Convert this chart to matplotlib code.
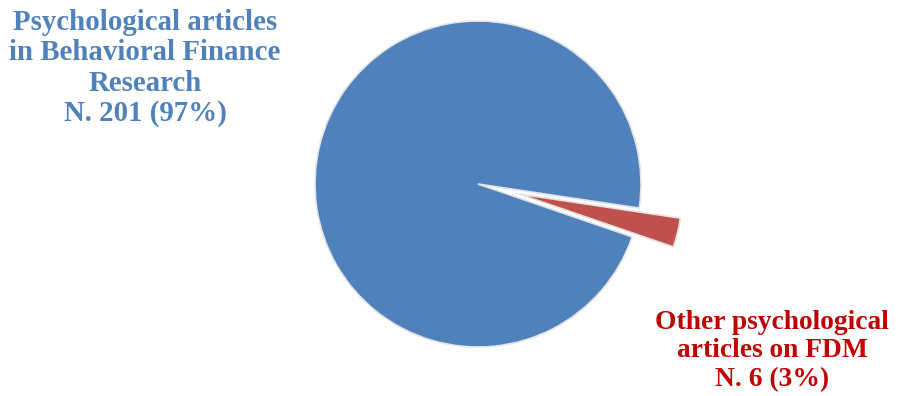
import matplotlib.pyplot as plt

# data
labels = ["Psychological articles\nin Behavioral Finance\nResearch\nN. 201 (97%)",
          "Other psychological\narticles on FDM\nN. 6 (3%)"]
counts = [201, 6]
colors = ["#4F81BD", "#C0504D"]
text_colors = ["#4F81BD", "#C00000"]

W, H = 898, 396
cx, cy, r = 478, 184, 163  # pie centre and radius in pixels

fig = plt.figure(figsize=(W / 100, H / 100), dpi=100)
ax = fig.add_axes([0, 0, 1, 1])

ax.pie(counts, colors=colors, startangle=-8.5, explode=[0, 0.26],
       radius=1, center=(0, 0), frame=True,
       wedgeprops=dict(edgecolor="#e4e4e4", linewidth=1.2))
ax.set_aspect("equal")
ax.axis("off")
ax.set_xlim(-cx / r, (W - cx) / r)
ax.set_ylim(-(H - cy) / r, cy / r)

# labels
fig.text(145 / W, 1 - 68 / H, labels[0], color=text_colors[0], ha="center", va="center",
         fontsize=20.8, fontweight="bold", family="Liberation Serif", linespacing=1.16)
fig.text(772 / W, 1 - 351 / H, labels[1], color=text_colors[1], ha="center", va="center",
         fontsize=19.8, fontweight="bold", family="Liberation Serif", linespacing=1.18)

fig.savefig("out.png", dpi=100)
